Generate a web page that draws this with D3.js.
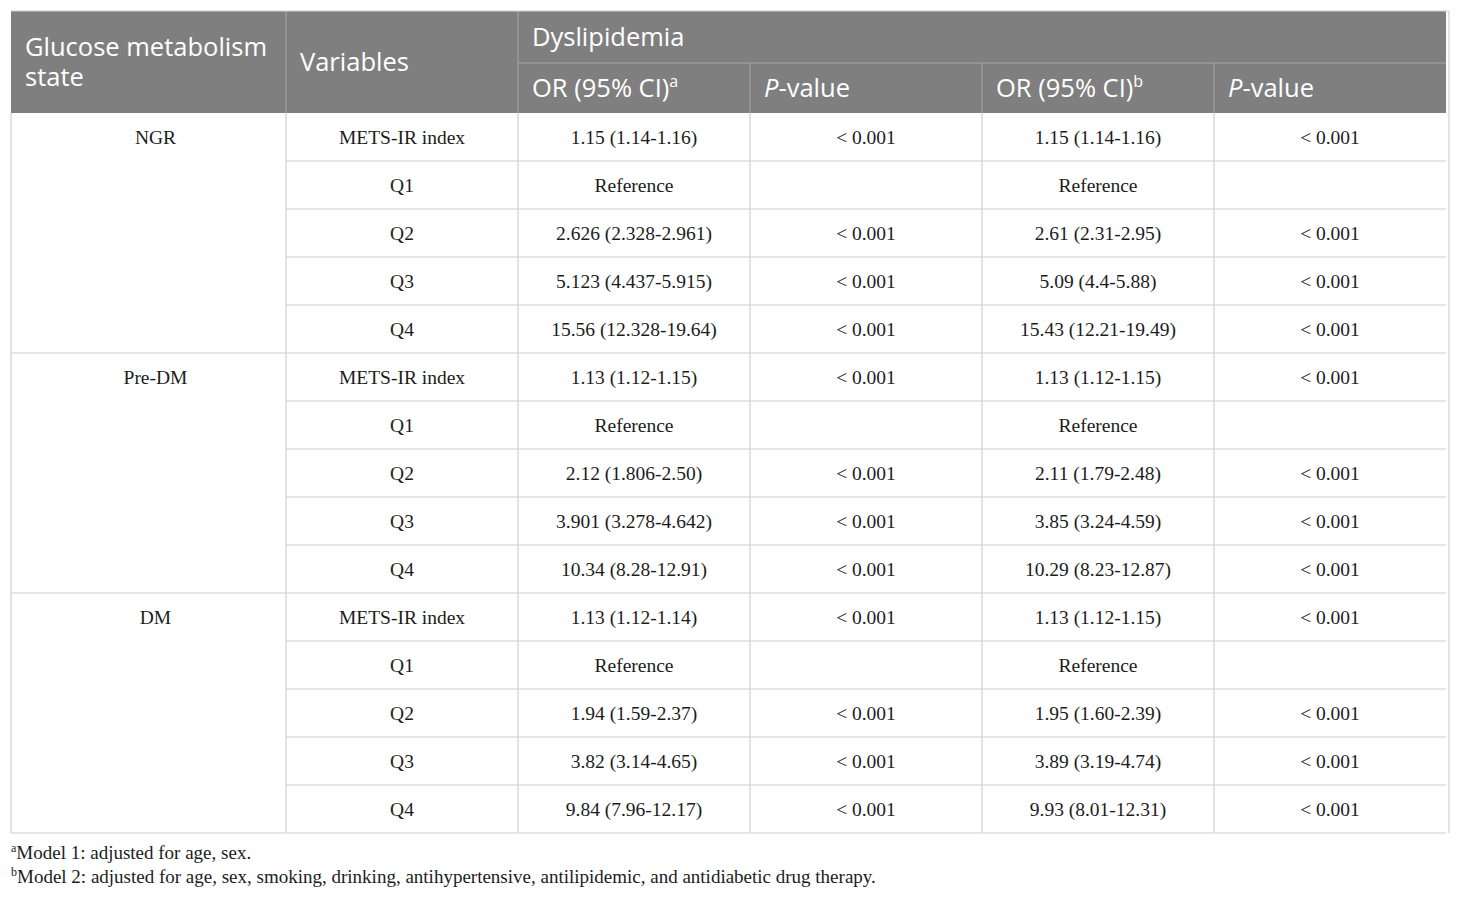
<!DOCTYPE html>
<html>
<head>
<meta charset="utf-8">
<script src="https://cdn.jsdelivr.net/npm/d3@7"></script>
<style>
  html, body { margin: 0; padding: 0; background: #fff; }
  svg { display: block; }
</style>
</head>
<body>
<div id="chart"></div>
<script>
// table content
const groups = ['NGR', 'Pre-DM', 'DM']
const variables = ['METS-IR index', 'Q1', 'Q2', 'Q3', 'Q4']

const or1 = [
  ['1.15 (1.14-1.16)', 'Reference', '2.626 (2.328-2.961)', '5.123 (4.437-5.915)', '15.56 (12.328-19.64)'],
  ['1.13 (1.12-1.15)', 'Reference', '2.12 (1.806-2.50)', '3.901 (3.278-4.642)', '10.34 (8.28-12.91)'],
  ['1.13 (1.12-1.14)', 'Reference', '1.94 (1.59-2.37)', '3.82 (3.14-4.65)', '9.84 (7.96-12.17)']
]
const p1 = [
  ['< 0.001', '', '< 0.001', '< 0.001', '< 0.001'],
  ['< 0.001', '', '< 0.001', '< 0.001', '< 0.001'],
  ['< 0.001', '', '< 0.001', '< 0.001', '< 0.001']
]
const or2 = [
  ['1.15 (1.14-1.16)', 'Reference', '2.61 (2.31-2.95)', '5.09 (4.4-5.88)', '15.43 (12.21-19.49)'],
  ['1.13 (1.12-1.15)', 'Reference', '2.11 (1.79-2.48)', '3.85 (3.24-4.59)', '10.29 (8.23-12.87)'],
  ['1.13 (1.12-1.15)', 'Reference', '1.95 (1.60-2.39)', '3.89 (3.19-4.74)', '9.93 (8.01-12.31)']
]
const p2 = [
  ['< 0.001', '', '< 0.001', '< 0.001', '< 0.001'],
  ['< 0.001', '', '< 0.001', '< 0.001', '< 0.001'],
  ['< 0.001', '', '< 0.001', '< 0.001', '< 0.001']
]

const spanHeader = 'Dyslipidemia'
const footnotes = [
  ['a', 'Model 1: adjusted for age, sex.'],
  ['b', 'Model 2: adjusted for age, sex, smoking, drinking, antihypertensive, antilipidemic, and antidiabetic drug therapy.']
]

const W = 1460,
      H = 898,
      x0 = 11,
      y0 = 11,
      headH = 102,
      rowH = 48;

// column edges
const colW = [275, 232, 232, 232, 232, 232]
const colX = [x0]
colW.forEach((w, i) => colX.push(colX[i] + w))
const xEnd = colX[colX.length - 1]

const rows = []
groups.forEach((g, gi) => {
  variables.forEach((v, vi) => {
    rows.push({ g: gi, v: vi, cells: [v, or1[gi][vi], p1[gi][vi], or2[gi][vi], p2[gi][vi]] })
  })
})

const y = d3.scaleBand()
  .domain(d3.range(rows.length))
  .range([y0 + headH, y0 + headH + rows.length * rowH])

const bodyBottom = y.range()[1]

const svg = d3.select('#chart')
  .append('svg')
  .attr('width', W)
  .attr('height', H)

const serif = '"Liberation Serif", "Times New Roman", serif'
const sans = '"Open Sans", "Noto Sans", sans-serif'
const lineC = '#cfcfcf'

// header block
svg.append('rect')
  .attr('x', x0).attr('y', y0)
  .attr('width', xEnd - x0).attr('height', headH)
  .attr('fill', '#7f7f7f')

const hl = svg.append('g').attr('stroke', '#9a9a9a').attr('stroke-width', 1.5)
hl.append('line').attr('x1', colX[2]).attr('x2', xEnd).attr('y1', y0 + 52).attr('y2', y0 + 52)
;[1, 2].forEach(i => hl.append('line').attr('x1', colX[i]).attr('x2', colX[i]).attr('y1', y0).attr('y2', y0 + headH))
;[3, 4, 5].forEach(i => hl.append('line').attr('x1', colX[i]).attr('x2', colX[i]).attr('y1', y0 + 52).attr('y2', y0 + headH))

const ht = svg.append('g')
  .attr('fill', '#fff')
  .style('font-family', sans)
  .style('font-size', '25.5px')

// two-line header kept in one text element
const gms = ht.append('text').attr('x', colX[0] + 14).attr('y', 56)
gms.append('tspan').text('Glucose metabolism')
gms.append('tspan').attr('x', colX[0] + 14).attr('dy', 30).text('state')

ht.append('text').attr('x', colX[1] + 14).attr('y', 71).text('Variables')
ht.append('text').attr('x', colX[2] + 14).attr('y', 46).text(spanHeader)

const subHeads = [['OR (95% CI)', 'a'], ['P-value'], ['OR (95% CI)', 'b'], ['P-value']]
subHeads.forEach((h, i) => {
  const t = ht.append('text').attr('x', colX[i + 2] + 14).attr('y', 97)
  if (h[0] === 'P-value') {
    t.append('tspan').style('font-style', 'italic').text('P')
    t.append('tspan').text('-value')
  } else {
    t.append('tspan').text(h[0])
    t.append('tspan').attr('dy', -10).style('font-size', '16px').text(h[1])
  }
})

// body grid
const grid = svg.append('g').attr('stroke', lineC).attr('stroke-width', 1.2)

rows.forEach((r, i) => {
  const yy = y(i) + y.bandwidth()
  const x1 = r.v === variables.length - 1 ? colX[0] : colX[1]
  grid.append('line').attr('x1', x1).attr('x2', xEnd).attr('y1', yy).attr('y2', yy)
})

colX.slice(0, -1).forEach(x => {
  grid.append('line').attr('x1', x).attr('x2', x).attr('y1', y0 + headH).attr('y2', bodyBottom)
})
// outer frame line on the right and top
grid.append('line').attr('x1', xEnd + 3).attr('x2', xEnd + 3).attr('y1', y0).attr('y2', bodyBottom)
grid.append('line').attr('x1', x0).attr('x2', xEnd + 3).attr('y1', y0).attr('y2', y0)

// body text
const bt = svg.append('g')
  .attr('fill', '#1c1c1c')
  .style('font-family', serif)
  .style('font-size', '19.5px')
  .attr('text-anchor', 'middle')

groups.forEach((g, gi) => {
  bt.append('text')
    .attr('x', (colX[0] + colX[1]) / 2 + 7)
    .attr('y', y(gi * variables.length) + y.bandwidth() / 2 + 7)
    .text(g)
})

rows.forEach((r, i) => {
  r.cells.forEach((c, ci) => {
    bt.append('text')
      .attr('x', (colX[ci + 1] + colX[ci + 2]) / 2)
      .attr('y', y(i) + y.bandwidth() / 2 + 7)
      .text(c)
  })
})

// footnotes
const ft = svg.append('g')
  .attr('fill', '#1c1c1c')
  .style('font-family', serif)
  .style('font-size', '19px')

footnotes.forEach((f, i) => {
  const t = ft.append('text').attr('x', x0).attr('y', 859 + i * 24)
  t.append('tspan').attr('dy', -7).style('font-size', '12px').text(f[0])
  t.append('tspan').attr('dy', 7).text(f[1])
})
</script>
</body>
</html>
